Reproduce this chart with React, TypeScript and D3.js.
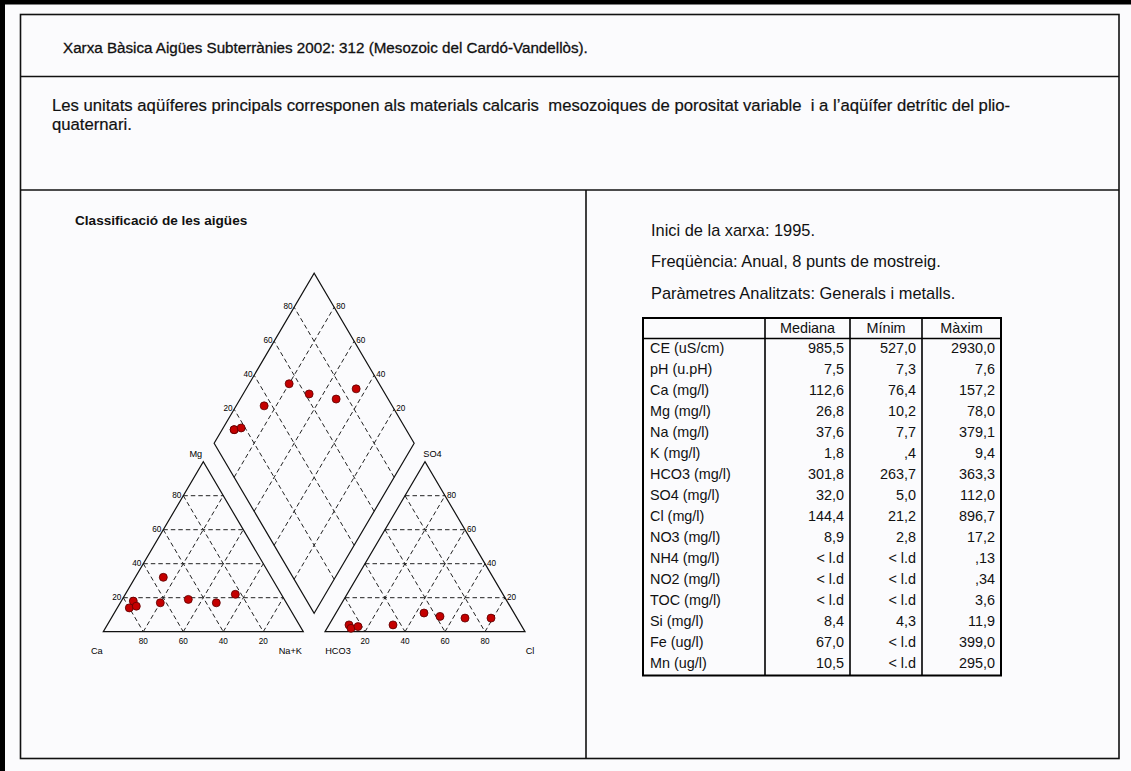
import React from 'react';
import * as d3 from 'd3';

// ---------- DATA ----------
const titleText = 'Xarxa Bàsica Aigües Subterrànies 2002: 312 (Mesozoic del Cardó-Vandellòs).';
const descLines = [
  'Les unitats aqüíferes principals corresponen als materials calcaris  mesozoiques de porositat variable  i a l\u2019aqüífer detrític del plio-',
  'quaternari.',
];
const leftHeading = 'Classificació de les aigües';
const infoLines = [
  'Inici de la xarxa: 1995.',
  'Freqüència: Anual, 8 punts de mostreig.',
  'Paràmetres Analitzats: Generals i metalls.',
];

// Piper samples (% meq)
const cationCa = [76, 80, 76, 54, 63, 48, 35, 23];
const cationMg = [18, 14, 15, 32, 17, 19, 17, 22];
const cationNaK = [6, 6, 9, 14, 20, 33, 48, 55];
const anionHCO3 = [86, 86, 82, 64, 45, 38, 26, 13];
const anionSO4 = [4, 2, 3, 4, 11, 9, 8, 8];
const anionCl = [10, 12, 15, 32, 44, 53, 66, 79];
const gridLevels = [20, 40, 60, 80];

// Table
const tableHeaders = ['', 'Mediana', 'Mínim', 'Màxim'];
const params = ['CE (uS/cm)', 'pH (u.pH)', 'Ca (mg/l)', 'Mg (mg/l)', 'Na (mg/l)', 'K (mg/l)', 'HCO3 (mg/l)', 'SO4 (mg/l)', 'Cl (mg/l)', 'NO3 (mg/l)', 'NH4 (mg/l)', 'NO2 (mg/l)', 'TOC (mg/l)', 'Si (mg/l)', 'Fe (ug/l)', 'Mn (ug/l)'];
const mediana = ['985,5', '7,5', '112,6', '26,8', '37,6', '1,8', '301,8', '32,0', '144,4', '8,9', '< l.d', '< l.d', '< l.d', '8,4', '67,0', '10,5'];
const minim = ['527,0', '7,3', '76,4', '10,2', '7,7', ',4', '263,7', '5,0', '21,2', '2,8', '< l.d', '< l.d', '< l.d', '4,3', '< l.d', '< l.d'];
const maxim = ['2930,0', '7,6', '157,2', '78,0', '379,1', '9,4', '363,3', '112,0', '896,7', '17,2', ',13', ',34', '3,6', '11,9', '399,0', '295,0'];

const FONT = '"Liberation Sans", Arial, sans-serif';

export default function App() {
  // ---- piper geometry (ideal units: side = 1, triangle height = 1) ----
  const GAP = 0.1085;
  const px = d3.scaleLinear().domain([0, 1]).range([103.3, 303.3]);
  const py = d3.scaleLinear().domain([0, 1]).range([631.7, 461.7]);

  const cat = (mg: number, nak: number) => [nak / 100 + mg / 200, mg / 100];
  const an = (so4: number, cl: number) => [1 + GAP + cl / 100 + so4 / 200, so4 / 100];
  const B = [1 + GAP / 2, GAP];
  const dia = (a: number, b: number) => [B[0] + 0.5 * (a - b) / 100, B[1] + (a + b) / 100];
  const P = (p: number[]) => [px(p[0]), py(p[1])];
  const line = d3.line<number[]>().x(d => px(d[0])).y(d => py(d[1]));

  const catTri = [cat(0, 0), cat(0, 100), cat(100, 0)];
  const anTri = [an(0, 0), an(0, 100), an(100, 0)];
  const diamond = [dia(0, 0), dia(100, 0), dia(100, 100), dia(0, 100)];

  const grid: number[][][] = [];
  gridLevels.forEach(k => {
    grid.push([cat(k, 0), cat(k, 100 - k)]);
    grid.push([cat(100 - k, 0), cat(0, 100 - k)]);
    grid.push([cat(0, k), cat(100 - k, k)]);
    grid.push([an(k, 0), an(k, 100 - k)]);
    grid.push([an(100 - k, 0), an(0, 100 - k)]);
    grid.push([an(0, k), an(100 - k, k)]);
    grid.push([dia(k, 0), dia(k, 100)]);
    grid.push([dia(0, k), dia(100, k)]);
  });

  const labels: { x: number; y: number; t: string; anchor: string }[] = [];
  gridLevels.forEach(k => {
    const l = P(cat(k, 0));
    labels.push({ x: l[0] - 2, y: l[1], t: String(k), anchor: 'end' });
    const b = P(cat(0, 100 - k));
    labels.push({ x: b[0], y: b[1] + 10, t: String(k), anchor: 'middle' });
    const r = P(an(k, 100 - k));
    labels.push({ x: r[0] + 2, y: r[1], t: String(k), anchor: 'start' });
    const ab = P(an(0, k));
    labels.push({ x: ab[0], y: ab[1] + 10, t: String(k), anchor: 'middle' });
    const dl = P(dia(k, 100));
    labels.push({ x: dl[0] - 1.5, y: dl[1], t: String(k), anchor: 'end' });
    const dr = P(dia(100, k));
    labels.push({ x: dr[0] + 2, y: dr[1], t: String(k), anchor: 'start' });
  });
  const cCa = P(cat(0, 0)), cNa = P(cat(0, 100)), cMg = P(cat(100, 0));
  const aH = P(an(0, 0)), aCl = P(an(0, 100)), aS = P(an(100, 0));
  const corner = [
    { x: cCa[0] - 6.5, y: cCa[1] + 20, t: 'Ca', anchor: 'middle' },
    { x: cNa[0] - 13, y: cNa[1] + 20, t: 'Na+K', anchor: 'middle' },
    { x: cMg[0] - 7.5, y: cMg[1] - 7, t: 'Mg', anchor: 'middle' },
    { x: aH[0] + 13, y: aH[1] + 20, t: 'HCO3', anchor: 'middle' },
    { x: aCl[0] + 5, y: aCl[1] + 20, t: 'Cl', anchor: 'middle' },
    { x: aS[0] + 7.5, y: aS[1] - 7, t: 'SO4', anchor: 'middle' },
  ];

  const catPts = cationCa.map((_, i) => P(cat(cationMg[i], cationNaK[i])));
  const anPts = anionHCO3.map((_, i) => P(an(anionSO4[i], anionCl[i])));
  const diaPts = cationCa.map((_, i) => P(dia(anionSO4[i] + anionCl[i], cationCa[i] + cationMg[i])));
  const allPts = [...catPts, ...anPts, ...diaPts];

  // ---- table geometry ----
  const colX = [643, 765, 850, 922, 1001];
  const tTop = 318, hdrBottom = 338.5;
  const rowH = 21.0;
  const ry = d3.scaleLinear().domain([0, params.length]).range([hdrBottom, hdrBottom + rowH * params.length]);
  const tBottom = ry(params.length) + 1;
  const cols = [mediana, minim, maxim];

  return (
    <svg width={1131} height={771} style={{ position: 'absolute', left: 0, top: 0 }} fontFamily={FONT}>
      <rect x={0} y={0} width={1131} height={771} fill="#fbfbfd" />
      <rect x={0} y={0} width={1131} height={4.5} fill="#000" />
      <rect x={0} y={0} width={5} height={771} fill="#000" />
      <rect x={20.5} y={14.5} width={1098.5} height={744} fill="none" stroke="#111" strokeWidth={1.6} />
      <line x1={20.5} x2={1119} y1={76.5} y2={76.5} stroke="#111" strokeWidth={1.6} />
      <line x1={20.5} x2={1119} y1={190} y2={190} stroke="#111" strokeWidth={1.6} />
      <line x1={586} x2={586} y1={190} y2={758.5} stroke="#111" strokeWidth={1.6} />

      <text x={63} y={52.5} fontSize={15.2} fill="#111" stroke="#111" strokeWidth={0.3}>{titleText}</text>
      {descLines.map((t, i) => (
        <text key={i} x={52} y={110.5 + i * 19} fontSize={16.7} fill="#111" stroke="#111" strokeWidth={0.2} style={{ whiteSpace: 'pre' }}>{t}</text>
      ))}
      <text x={75} y={225} fontSize={13.6} fontWeight="bold" fill="#111">{leftHeading}</text>
      {infoLines.map((t, i) => (
        <text key={i} x={651} y={235.5 + i * 31.5} fontSize={16.4} fill="#111">{t}</text>
      ))}

      <g fill="none" stroke="#222" strokeWidth={1} strokeDasharray="4.5,3">
        {grid.map((g, i) => <path key={i} d={line(g) as string} />)}
      </g>
      <g fill="none" stroke="#111" strokeWidth={1.2}>
        <path d={(line(catTri) as string) + 'Z'} />
        <path d={(line(anTri) as string) + 'Z'} />
        <path d={(line(diamond) as string) + 'Z'} />
      </g>
      <g fontSize={8.2} fill="#000">
        {labels.map((l, i) => (
          <text key={i} x={l.x} y={l.y} textAnchor={l.anchor as any} dominantBaseline="middle">{l.t}</text>
        ))}
      </g>
      <g fontSize={9.2} fill="#000">
        {corner.map((l, i) => (
          <text key={i} x={l.x} y={l.y} textAnchor={l.anchor as any} dominantBaseline="middle">{l.t}</text>
        ))}
      </g>
      <g fill="#c40000" stroke="#5a0000" strokeWidth={0.8}>
        {allPts.map((p, i) => <circle key={i} cx={p[0]} cy={p[1]} r={4} />)}
      </g>

      <g fontSize={14.4} fill="#111">
        {tableHeaders.map((h, i) => i > 0 && (
          <text key={h} x={(colX[i] + colX[i + 1]) / 2} y={(tTop + hdrBottom) / 2 + 1} textAnchor="middle" dominantBaseline="middle">{h}</text>
        ))}
        {params.map((p, r) => (
          <g key={p}>
            <text x={colX[0] + 7} y={ry(r + 0.5)} dominantBaseline="middle">{p}</text>
            {cols.map((c, ci) => (
              <text key={ci} x={colX[ci + 2] - 6} y={ry(r + 0.5)} textAnchor="end" dominantBaseline="middle">{c[r]}</text>
            ))}
          </g>
        ))}
      </g>
      <g stroke="#000" fill="none">
        <rect x={colX[0]} y={tTop} width={colX[4] - colX[0]} height={tBottom - tTop} strokeWidth={2} />
        <line x1={colX[0]} x2={colX[4]} y1={hdrBottom} y2={hdrBottom} strokeWidth={1.5} />
        {colX.slice(1, 4).map((x, i) => (
          <line key={i} x1={x} x2={x} y1={tTop} y2={tBottom} strokeWidth={1.6} />
        ))}
      </g>
    </svg>
  );
}
